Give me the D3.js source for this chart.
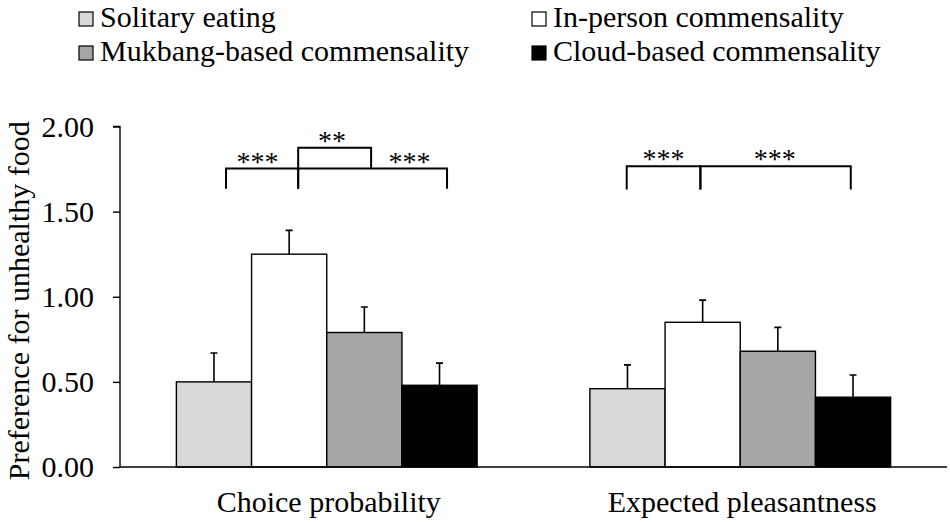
<!DOCTYPE html>
<html>
<head>
<meta charset="utf-8">
<script src="https://cdn.jsdelivr.net/npm/d3@7"></script>
<style>
  body { margin: 0; background: #fff; }
  text { font-family: "Liberation Serif", "Times New Roman", serif; fill: #000; }
</style>
</head>
<body>
<script>
const categories = ["Choice probability", "Expected pleasantness"];
const seriesNames = ["Solitary eating", "In-person commensality", "Mukbang-based commensality", "Cloud-based commensality"];
const seriesColors = ["#d9d9d9", "#ffffff", "#a6a6a6", "#000000"];
const choiceValues = [0.50, 1.25, 0.79, 0.48];
const choiceErrors = [0.17, 0.14, 0.15, 0.13];
const pleasantValues = [0.46, 0.85, 0.68, 0.41];
const pleasantErrors = [0.14, 0.13, 0.14, 0.13];
const yTicks = [0, 0.5, 1, 1.5, 2];
const yLabel = "Preference for unhealthy food";

// significance brackets: ends are in "bar units" inside a group (0 = left edge of first bar)
const brackets = [
  { cat: 0, from: 0.66, to: 1.62, level: 1.753, dropL: 1.635, dropR: 1.635, label: "***", labelAt: 1.08 },
  { cat: 0, from: 1.62, to: 3.60, level: 1.753, dropL: 1.635, dropR: 1.635, label: "***", labelAt: 3.10 },
  { cat: 0, from: 1.62, to: 2.59, level: 1.875, dropL: 1.753, dropR: 1.753, label: "**", labelAt: 2.07 },
  { cat: 1, from: 0.49, to: 1.47, level: 1.767, dropL: 1.63, dropR: 1.63, label: "***", labelAt: 0.98 },
  { cat: 1, from: 1.47, to: 3.47, level: 1.767, dropL: 1.63, dropR: 1.63, label: "***", labelAt: 2.46 }
];

const width = 950, height = 523;
const margin = { top: 126.5, right: 3, bottom: 56, left: 120 };

const data = categories.map((c, i) => ({
  cat: c,
  values: seriesNames.map((s, j) => ({
    series: s,
    color: seriesColors[j],
    value: i === 0 ? choiceValues[j] : pleasantValues[j],
    err: i === 0 ? choiceErrors[j] : pleasantErrors[j]
  }))
}));

const svg = d3.select("body")
  .append("svg")
  .attr("width", width)
  .attr("height", height);

const x0 = d3.scaleBand()
  .domain(categories)
  .range([margin.left, width - margin.right])
  .padding(0);

const x1 = d3.scaleBand()
  .domain(seriesNames)
  .range([0, x0.bandwidth()])
  .paddingInner(0)
  .paddingOuter(0.75);

const y = d3.scaleLinear()
  .domain([0, 2])
  .range([height - margin.bottom, margin.top]);

const unitX = (cat, u) => x0(cat) + x1(seriesNames[0]) + u * x1.step();

// y axis
const yAxis = svg.append("g")
  .attr("transform", `translate(${margin.left},0)`)
  .call(d3.axisLeft(y).tickValues(yTicks).tickFormat(d3.format(".2f")).tickSize(7).tickPadding(19));
yAxis.select(".domain").attr("stroke", "#000").attr("stroke-width", 1.4).attr("d", `M-7,${y(2)}H0V${y(0)}`);
yAxis.selectAll(".tick line").attr("stroke", "#000").attr("stroke-width", 1.4);
yAxis.selectAll(".tick text").style("font-size", "30px").style("font-family", "Liberation Serif").attr("fill", "#000");

svg.append("text")
  .attr("transform", `translate(29,${(y(0) + y(2)) / 2 + 4}) rotate(-90)`)
  .attr("text-anchor", "middle")
  .style("font-size", "30px")
  .text(yLabel);

// bars
const groups = svg.append("g")
  .selectAll("g")
  .data(data)
  .enter()
  .append("g")
  .attr("transform", d => `translate(${x0(d.cat)},0)`);

groups.selectAll("rect")
  .data(d => d.values)
  .enter()
  .append("rect")
  .attr("x", d => x1(d.series))
  .attr("y", d => y(d.value))
  .attr("width", x1.bandwidth())
  .attr("height", d => y(0) - y(d.value))
  .attr("fill", d => d.color)
  .attr("stroke", "#000")
  .attr("stroke-width", 1.4);

// error bars (upper only)
groups.selectAll("path.err")
  .data(d => d.values)
  .enter()
  .append("path")
  .attr("class", "err")
  .attr("d", d => {
    const cx = x1(d.series) + x1.bandwidth() / 2;
    return `M${cx},${y(d.value)}V${y(d.value + d.err)}M${cx - 3.5},${y(d.value + d.err)}H${cx + 3.5}`;
  })
  .attr("fill", "none")
  .attr("stroke", "#000")
  .attr("stroke-width", 1.6);

// x axis line
svg.append("line")
  .attr("x1", margin.left)
  .attr("x2", width - margin.right)
  .attr("y1", y(0))
  .attr("y2", y(0))
  .attr("stroke", "#000")
  .attr("stroke-width", 1.4);

svg.append("g")
  .selectAll("text")
  .data(categories)
  .enter()
  .append("text")
  .attr("x", d => x0(d) + x0.bandwidth() / 2 + 2)
  .attr("y", y(0) + 45)
  .attr("text-anchor", "middle")
  .style("font-size", "30px")
  .text(d => d);

// significance brackets
svg.append("g")
  .selectAll("path")
  .data(brackets)
  .enter()
  .append("path")
  .attr("d", b => {
    const c = categories[b.cat];
    return `M${unitX(c, b.from)},${y(b.dropL)}V${y(b.level)}H${unitX(c, b.to)}V${y(b.dropR)}`;
  })
  .attr("fill", "none")
  .attr("stroke", "#000")
  .attr("stroke-width", 2);

svg.append("g")
  .selectAll("text")
  .data(brackets)
  .enter()
  .append("text")
  .attr("x", b => unitX(categories[b.cat], b.labelAt))
  .attr("y", b => y(b.level) + 2)
  .attr("text-anchor", "middle")
  .style("font-size", "28px")
  .text(b => b.label);

// legend
const legend = svg.append("g")
  .selectAll("g")
  .data(seriesNames)
  .enter()
  .append("g")
  .attr("transform", (d, i) => `translate(${i % 2 === 0 ? 79 : 532},${i < 2 ? 12 : 46})`);

legend.append("rect")
  .attr("width", 14)
  .attr("height", 14)
  .attr("fill", (d, i) => seriesColors[i])
  .attr("stroke", "#000")
  .attr("stroke-width", 1.2);

legend.append("text")
  .attr("x", 21)
  .attr("y", 15)
  .style("font-size", "30px")
  .text(d => d);
</script>
</body>
</html>
